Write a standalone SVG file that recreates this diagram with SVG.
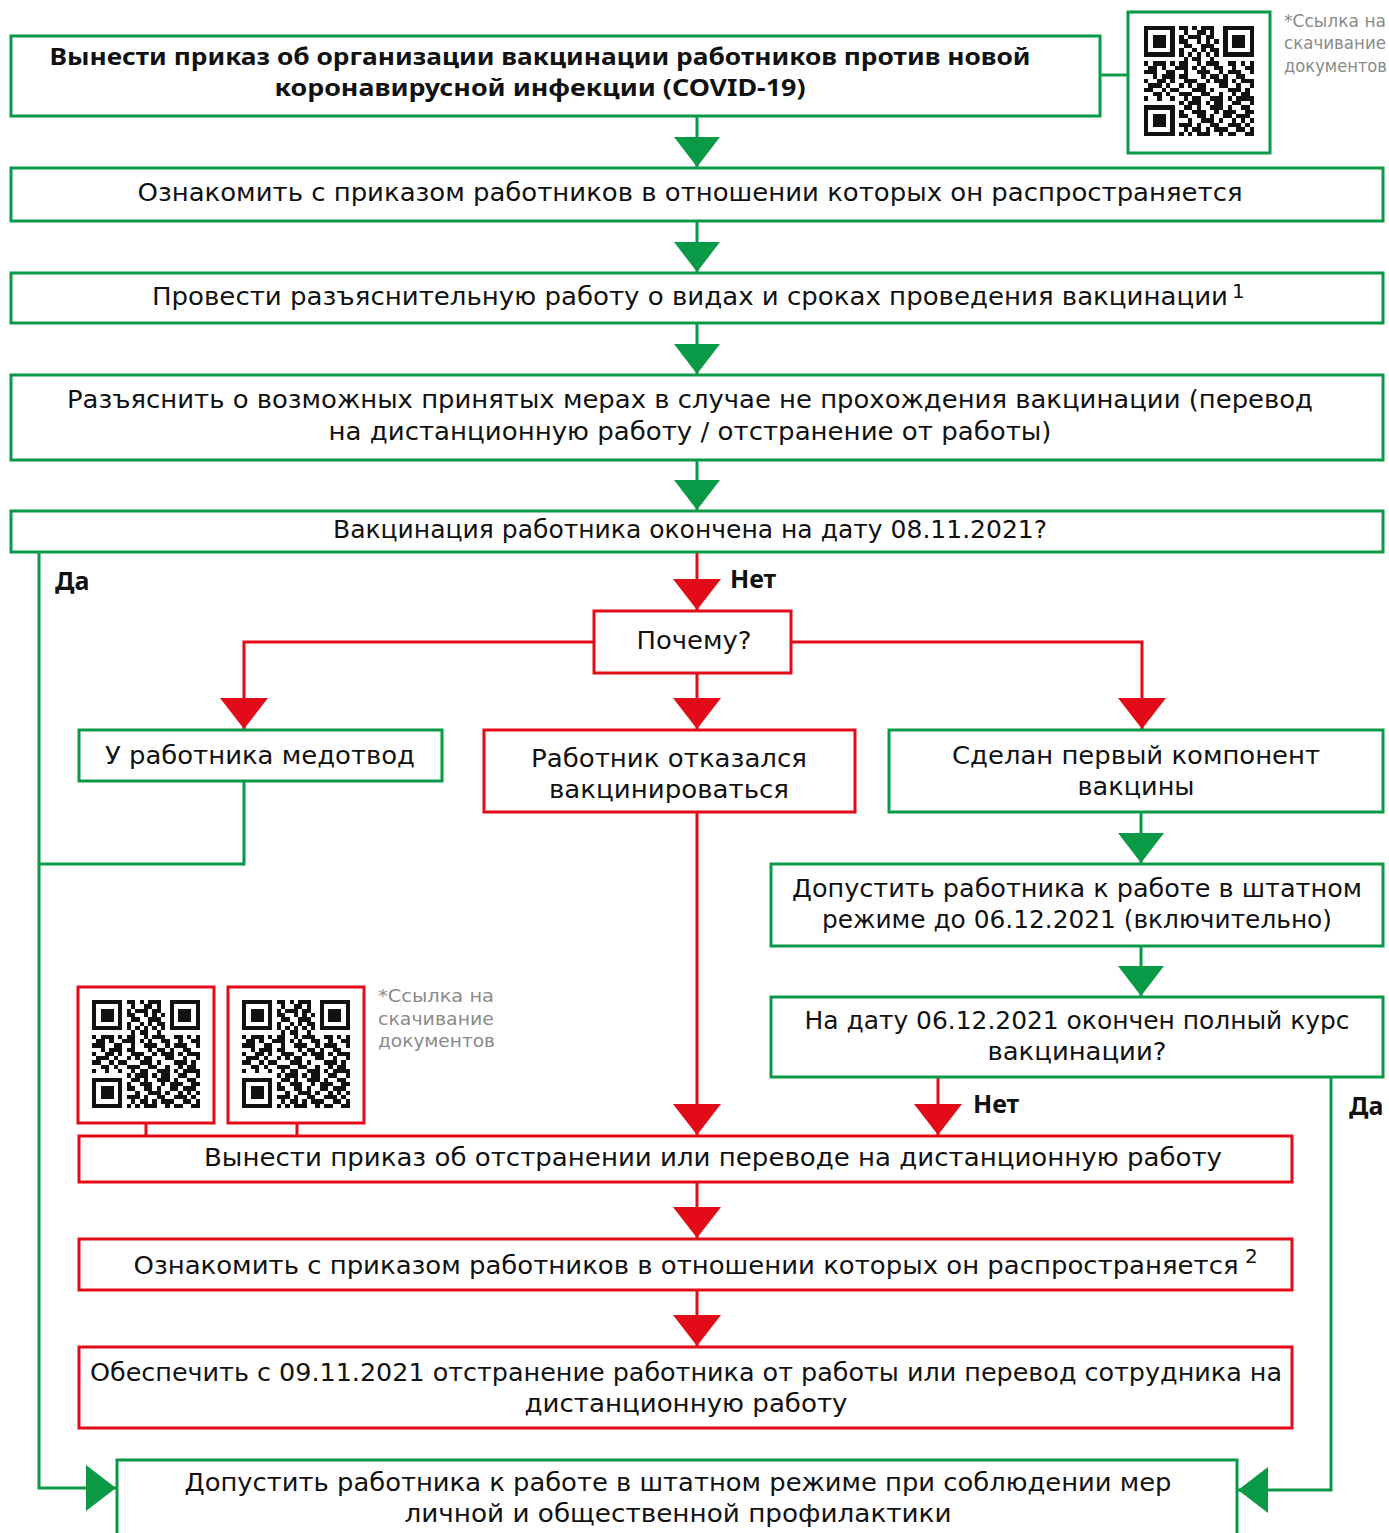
<svg xmlns="http://www.w3.org/2000/svg" width="1389" height="1533" viewBox="0 0 1389 1533">
<style>
text{font-family:"DejaVu Sans","Noto Sans",sans-serif;fill:#111;}
.t{font-size:24px;text-anchor:middle;}
.b{font-family:"Noto Sans","DejaVu Sans",sans-serif;font-size:24px;font-weight:bold;text-anchor:middle;}
.lbl{font-family:"Noto Sans","DejaVu Sans",sans-serif;font-size:25px;font-weight:bold;}
.sup{font-size:20px;}
.note{font-size:17px;fill:#8a8a8a;}
.g{fill:#fff;stroke:#0a9a47;stroke-width:3;}
.r{fill:#fff;stroke:#e30b17;stroke-width:3;}
.cg{fill:none;stroke:#0a9a47;stroke-width:3;}
.cr{fill:none;stroke:#e30b17;stroke-width:3;}
</style>
<defs>
<marker id="ag" markerUnits="userSpaceOnUse" viewBox="0 0 30 46" refX="30" refY="23" markerWidth="30" markerHeight="46" orient="auto"><path d="M0 0L30 23L0 46z" fill="#0a9a47"/></marker>
<marker id="ar" markerUnits="userSpaceOnUse" viewBox="0 0 31 48" refX="31" refY="24" markerWidth="31" markerHeight="48" orient="auto"><path d="M0 0L31 24L0 48z" fill="#e30b17"/></marker>
<symbol id="qr" viewBox="0 0 25 25" shape-rendering="crispEdges">
<path fill="#111" fill-rule="evenodd" d="M0 0h7v7h-7z M1 1v5h5v-5z M2 2h3v3h-3z M18 0h7v7h-7z M19 1v5h5v-5z M20 2h3v3h-3z M0 18h7v7h-7z M1 19v5h5v-5z M2 20h3v3h-3z"/>
<path fill="#111" d="M8 0h2v1h-2z M11 0h1v1h-1z M13 0h3v1h-3z
M9 1h1v1h-1z M12 1h2v1h-2z M15 1h1v1h-1z
M8 2h1v1h-1z M10 2h3v1h-3z M14 2h2v1h-2z
M8 3h2v1h-2z M12 3h1v1h-1z M14 3h1v1h-1z M16 3h1v1h-1z
M9 4h2v1h-2z M13 4h3v1h-3z
M8 5h1v1h-1z M11 5h1v1h-1z M13 5h1v1h-1z M15 5h2v1h-2z
M8 6h1v1h-1z M10 6h1v1h-1z M12 6h1v1h-1z M14 6h1v1h-1z M16 6h1v1h-1z
M9 7h1v1h-1z M11 7h2v1h-2z M15 7h1v1h-1z
M0 8h1v1h-1z M2 8h3v1h-3z M6 8h1v1h-1z M8 8h2v1h-2z M12 8h1v1h-1z M14 8h3v1h-3z M19 8h2v1h-2z M22 8h1v1h-1z M24 8h1v1h-1z
M1 9h2v1h-2z M4 9h1v1h-1z M7 9h3v1h-3z M11 9h1v1h-1z M13 9h1v1h-1z M16 9h2v1h-2z M20 9h1v1h-1z M23 9h2v1h-2z
M0 10h3v1h-3z M5 10h2v1h-2z M9 10h1v1h-1z M12 10h3v1h-3z M17 10h1v1h-1z M19 10h3v1h-3z M24 10h1v1h-1z
M2 11h1v1h-1z M4 11h3v1h-3z M8 11h2v1h-2z M13 11h1v1h-1z M15 11h2v1h-2z M18 11h1v1h-1z M21 11h2v1h-2z
M0 12h1v1h-1z M3 12h2v1h-2z M6 12h1v1h-1z M9 12h3v1h-3z M14 12h1v1h-1z M16 12h3v1h-3z M20 12h1v1h-1z M22 12h3v1h-3z
M1 13h3v1h-3z M5 13h1v1h-1z M8 13h1v1h-1z M10 13h1v1h-1z M12 13h2v1h-2z M17 13h2v1h-2z M21 13h1v1h-1z M24 13h1v1h-1z
M0 14h2v1h-2z M4 14h1v1h-1z M6 14h2v1h-2z M11 14h3v1h-3z M15 14h1v1h-1z M19 14h3v1h-3z M23 14h1v1h-1z
M2 15h2v1h-2z M5 15h1v1h-1z M8 15h3v1h-3z M13 15h2v1h-2z M17 15h1v1h-1z M20 15h1v1h-1z M22 15h2v1h-2z
M0 16h1v1h-1z M3 16h1v1h-1z M6 16h1v1h-1z M9 16h1v1h-1z M11 16h2v1h-2z M15 16h3v1h-3z M19 16h1v1h-1z M21 16h4v1h-4z
M8 17h1v1h-1z M10 17h3v1h-3z M14 17h1v1h-1z M16 17h2v1h-2z M20 17h2v1h-2z M24 17h1v1h-1z
M9 18h2v1h-2z M12 18h1v1h-1z M15 18h3v1h-3z M19 18h1v1h-1z M22 18h2v1h-2z
M8 19h1v1h-1z M11 19h3v1h-3z M16 19h1v1h-1z M18 19h3v1h-3z M23 19h2v1h-2z
M8 20h2v1h-2z M12 20h2v1h-2z M15 20h1v1h-1z M18 20h2v1h-2z M21 20h3v1h-3z
M10 21h1v1h-1z M13 21h3v1h-3z M17 21h1v1h-1z M20 21h1v1h-1z M22 21h1v1h-1z M24 21h1v1h-1z
M8 22h3v1h-3z M12 22h1v1h-1z M15 22h2v1h-2z M19 22h3v1h-3z M23 22h1v1h-1z
M9 23h1v1h-1z M11 23h2v1h-2z M14 23h1v1h-1z M16 23h3v1h-3z M21 23h2v1h-2z M24 23h1v1h-1z
M8 24h1v1h-1z M10 24h1v1h-1z M12 24h3v1h-3z M17 24h1v1h-1z M19 24h2v1h-2z M23 24h2v1h-2z"/>
</symbol>
</defs>
<rect width="1389" height="1533" fill="#fff"/>

<g id="connectors">
<path class="cg" d="M697 116V167" marker-end="url(#ag)"/>
<path class="cg" d="M697 221V272" marker-end="url(#ag)"/>
<path class="cg" d="M697 323V374" marker-end="url(#ag)"/>
<path class="cg" d="M697 460V510" marker-end="url(#ag)"/>
<path class="cg" d="M39 552V1488H116" marker-end="url(#ag)"/>
<path class="cg" d="M244 781V864H39"/>
<path class="cg" d="M1141 812V863" marker-end="url(#ag)"/>
<path class="cg" d="M1141 946V996" marker-end="url(#ag)"/>
<path class="cg" d="M1331 1077V1490H1238" marker-end="url(#ag)"/>
<path class="cg" d="M1100 75H1128"/>
<path class="cr" d="M697 552V610" marker-end="url(#ar)"/>
<path class="cr" d="M594 642H244V729" marker-end="url(#ar)"/>
<path class="cr" d="M697 673V729" marker-end="url(#ar)"/>
<path class="cr" d="M791 642H1142V729" marker-end="url(#ar)"/>
<path class="cr" d="M697 812V1135" marker-end="url(#ar)"/>
<path class="cr" d="M938 1077V1135" marker-end="url(#ar)"/>
<path class="cr" d="M697 1182V1238" marker-end="url(#ar)"/>
<path class="cr" d="M697 1290V1346" marker-end="url(#ar)"/>
<path class="cr" d="M146 1123V1136M297 1123V1136"/>
<text class="lbl" x="55" y="590">Да</text>
<text class="lbl" x="730" y="588">Нет</text>
<text class="lbl" x="973" y="1113">Нет</text>
<text class="lbl" x="1349" y="1115">Да</text>
</g>

<g id="n1">
<rect class="g" x="11" y="36" width="1089" height="80"/>
<text class="b" x="540" y="65" textLength="981" lengthAdjust="spacingAndGlyphs">Вынести приказ об организации вакцинации работников против новой</text>
<text class="b" x="540" y="96" textLength="531" lengthAdjust="spacingAndGlyphs">коронавирусной инфекции (COVID-19)</text>
</g>

<g id="qr1">
<rect class="g" x="1128" y="12" width="142" height="141"/>
<use href="#qr" x="1144" y="26" width="110" height="110"/>
<text class="note" x="1284" y="27" textLength="102" lengthAdjust="spacingAndGlyphs">*Ссылка на</text>
<text class="note" x="1284" y="49" textLength="102" lengthAdjust="spacingAndGlyphs">скачивание</text>
<text class="note" x="1284" y="72" textLength="103" lengthAdjust="spacingAndGlyphs">документов</text>
</g>

<g id="n2">
<rect class="g" x="11" y="168" width="1372" height="53"/>
<text class="t" x="690" y="201" textLength="1105" lengthAdjust="spacingAndGlyphs">Ознакомить с приказом работников в отношении которых он распространяется</text>
</g>

<g id="n3">
<rect class="g" x="11" y="273" width="1372" height="50"/>
<text class="t" x="690" y="305" textLength="1076" lengthAdjust="spacingAndGlyphs">Провести разъяснительную работу о видах и сроках проведения вакцинации</text>
<text class="sup" x="1232" y="298">1</text>
</g>

<g id="n4">
<rect class="g" x="11" y="375" width="1372" height="85"/>
<text class="t" x="690" y="408" textLength="1246" lengthAdjust="spacingAndGlyphs">Разъяснить о возможных принятых мерах в случае не прохождения вакцинации (перевод</text>
<text class="t" x="690" y="440" textLength="723" lengthAdjust="spacingAndGlyphs">на дистанционную работу / отстранение от работы)</text>
</g>

<g id="n5">
<rect class="g" x="11" y="511" width="1372" height="41"/>
<text class="t" x="690" y="538" textLength="714" lengthAdjust="spacingAndGlyphs">Вакцинация работника окончена на дату 08.11.2021?</text>
</g>

<g id="n6">
<rect class="r" x="594" y="611" width="197" height="62"/>
<text class="t" x="694" y="649" textLength="115" lengthAdjust="spacingAndGlyphs">Почему?</text>
</g>

<g id="n7">
<rect class="g" x="79" y="730" width="363" height="51"/>
<text class="t" x="260" y="764" textLength="310" lengthAdjust="spacingAndGlyphs">У работника медотвод</text>
</g>

<g id="n8">
<rect class="r" x="484" y="730" width="371" height="82"/>
<text class="t" x="669" y="767" textLength="276" lengthAdjust="spacingAndGlyphs">Работник отказался</text>
<text class="t" x="669" y="798" textLength="240" lengthAdjust="spacingAndGlyphs">вакцинироваться</text>
</g>

<g id="n9">
<rect class="g" x="889" y="730" width="494" height="82"/>
<text class="t" x="1136" y="764" textLength="368" lengthAdjust="spacingAndGlyphs">Сделан первый компонент</text>
<text class="t" x="1136" y="795" textLength="117" lengthAdjust="spacingAndGlyphs">вакцины</text>
</g>

<g id="n10">
<rect class="g" x="771" y="864" width="612" height="82"/>
<text class="t" x="1077" y="897" textLength="570" lengthAdjust="spacingAndGlyphs">Допустить работника к работе в штатном</text>
<text class="t" x="1077" y="928" textLength="510" lengthAdjust="spacingAndGlyphs">режиме до 06.12.2021 (включительно)</text>
</g>

<g id="n11">
<rect class="g" x="771" y="997" width="612" height="80"/>
<text class="t" x="1077" y="1029" textLength="545" lengthAdjust="spacingAndGlyphs">На дату 06.12.2021 окончен полный курс</text>
<text class="t" x="1077" y="1060" textLength="179" lengthAdjust="spacingAndGlyphs">вакцинации?</text>
</g>

<g id="qr2">
<rect class="r" x="78" y="987" width="136" height="136"/>
<use href="#qr" x="92" y="1000" width="108" height="108"/>
</g>

<g id="qr3">
<rect class="r" x="228" y="987" width="136" height="136"/>
<use href="#qr" x="242" y="1000" width="108" height="108"/>
<text class="note" x="378" y="1002" textLength="116" lengthAdjust="spacingAndGlyphs">*Ссылка на</text>
<text class="note" x="378" y="1025" textLength="116" lengthAdjust="spacingAndGlyphs">скачивание</text>
<text class="note" x="378" y="1047" textLength="117" lengthAdjust="spacingAndGlyphs">документов</text>
</g>

<g id="n12">
<rect class="r" x="79" y="1136" width="1213" height="46"/>
<text class="t" x="713" y="1166" textLength="1018" lengthAdjust="spacingAndGlyphs">Вынести приказ об отстранении или переводе на дистанционную работу</text>
</g>

<g id="n13">
<rect class="r" x="79" y="1239" width="1213" height="51"/>
<text class="t" x="686" y="1274" textLength="1105" lengthAdjust="spacingAndGlyphs">Ознакомить с приказом работников в отношении которых он распространяется</text>
<text class="sup" x="1245" y="1263">2</text>
</g>

<g id="n14">
<rect class="r" x="79" y="1347" width="1213" height="81"/>
<text class="t" x="686" y="1381" textLength="1192" lengthAdjust="spacingAndGlyphs">Обеспечить с 09.11.2021 отстранение работника от работы или перевод сотрудника на</text>
<text class="t" x="686" y="1412" textLength="323" lengthAdjust="spacingAndGlyphs">дистанционную работу</text>
</g>

<g id="n15">
<rect class="g" x="117" y="1460" width="1120" height="90"/>
<text class="t" x="678" y="1491" textLength="987" lengthAdjust="spacingAndGlyphs">Допустить работника к работе в штатном режиме при соблюдении мер</text>
<text class="t" x="678" y="1522" textLength="547" lengthAdjust="spacingAndGlyphs">личной и общественной профилактики</text>
</g>
</svg>
